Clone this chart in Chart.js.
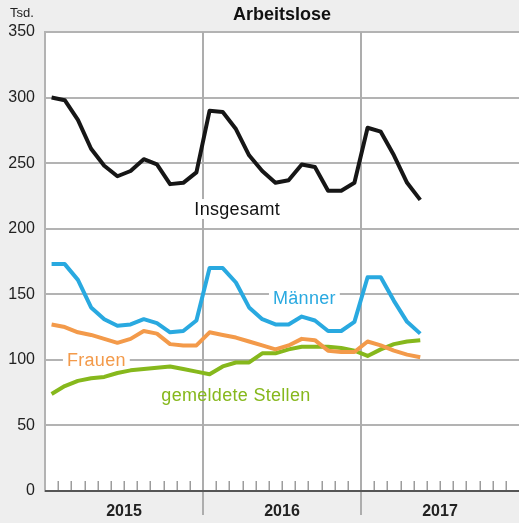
<!DOCTYPE html>
<html lang="de">
<head>
<meta charset="utf-8">
<title>Arbeitslose</title>
<script src="https://cdn.jsdelivr.net/npm/chart.js@4.4.1/dist/chart.umd.min.js"></script>
<style>
  html, body { margin: 0; padding: 0; background: #eeeeee; }
  canvas { display: block; }
</style>
</head>
<body>
<canvas id="chart" width="519" height="523" style="width:519px;height:523px"></canvas>
<script>
// Arbeitslose in Tsd., monthly Jan 2015 - May 2017
const years = ['2015', '2016', '2017'];
const monthsShown = 36;
const yMax = 350;
const yStep = 50;

const insgesamt = [300, 298, 283, 261, 248, 240, 244, 253, 249, 234, 235, 243,
                   290, 289, 276, 256, 244, 235, 237, 249, 247, 229, 229, 235,
                   277, 274, 256, 235, 222];
const maenner   = [173, 173, 161, 140, 131, 126, 127, 131, 128, 121, 122, 130,
                   170, 170, 159, 140, 131, 127, 127, 133, 130, 122, 122, 129,
                   163, 163, 145, 129, 120];
const frauen    = [127, 125, 121, 119, 116, 113, 116, 122, 120, 112, 111, 111,
                   121, 119, 117, 114, 111, 108, 111, 116, 115, 107, 106, 106,
                   114, 111, 107, 104, 102];
const stellen   = [74, 80, 84, 86, 87, 90, 92, 93, 94, 95, 93, 91,
                   89, 95, 98, 98, 105, 105, 108, 110, 110, 110, 109, 107,
                   103, 108, 112, 114, 115];

// month i sits in the middle of its slot
const pts = arr => arr.map((v, i) => ({ x: i + 0.5, y: v }));

// line captions, placed in data units (month, Tsd.)
const captions = [
  { text: 'Insgesamt', color: '#111111', x: 14.6, y: 215, box: true },
  { text: 'Männer', color: '#29a9e0', x: 19.7, y: 147.5, box: true },
  { text: 'Frauen', color: '#f39a4a', x: 3.9, y: 100, box: true },
  { text: 'gemeldete Stellen', color: '#86b81c', x: 14.5, y: 73, box: false }
];

Chart.defaults.font.family = "'Liberation Sans', Arial, sans-serif";
Chart.defaults.color = '#222';

const decor = {
  id: 'decor',
  beforeDraw(chart) {
    const { ctx, chartArea: a } = chart;
    ctx.save();
    ctx.fillStyle = '#eeeeee';
    ctx.fillRect(0, 0, chart.width, chart.height);
    ctx.fillStyle = '#ffffff';
    ctx.fillRect(a.left, a.top, a.right - a.left, a.bottom - a.top);
    ctx.restore();
  },
  beforeDatasetsDraw(chart) {
    const { ctx, chartArea: a, scales: { x, y } } = chart;
    ctx.save();
    // year separators run below the axis
    ctx.strokeStyle = '#adadad';
    ctx.lineWidth = 2;
    for (let k = 12; k < monthsShown; k += 12) {
      const px = Math.round(x.getPixelForValue(k));
      ctx.beginPath();
      ctx.moveTo(px, a.top);
      ctx.lineTo(px, a.bottom + 24);
      ctx.stroke();
    }
    // month ticks
    ctx.strokeStyle = '#9c9c9c';
    ctx.lineWidth = 1.5;
    for (let k = 1; k < monthsShown; k++) {
      if (k % 12 === 0) continue;
      const px = Math.round(x.getPixelForValue(k)) + 0.25;
      ctx.beginPath();
      ctx.moveTo(px, a.bottom);
      ctx.lineTo(px, a.bottom - 10);
      ctx.stroke();
    }
    // x axis
    ctx.strokeStyle = '#555';
    ctx.lineWidth = 2;
    ctx.beginPath();
    ctx.moveTo(a.left, a.bottom);
    ctx.lineTo(a.right, a.bottom);
    ctx.stroke();

    // captions
    ctx.font = "18px 'Liberation Sans', Arial, sans-serif";
    ctx.letterSpacing = '0.3px';
    ctx.textAlign = 'center';
    ctx.textBaseline = 'middle';
    captions.forEach(c => {
      const cx = x.getPixelForValue(c.x);
      const cy = y.getPixelForValue(c.y);
      const w = ctx.measureText(c.text).width;
      if (c.box) {
        ctx.fillStyle = '#ffffff';
        ctx.fillRect(cx - w / 2 - 4, cy - 10, w + 8, 20);
      }
      ctx.fillStyle = c.color;
      ctx.fillText(c.text, cx, cy + 1);
    });
    ctx.restore();
  },
  afterDraw(chart) {
    const { ctx } = chart;
    ctx.save();
    ctx.font = "13px 'Liberation Sans', Arial, sans-serif";
    ctx.fillStyle = '#222';
    ctx.textBaseline = 'middle';
    ctx.fillText('Tsd.', 10, 13);
    ctx.restore();
  }
};

const line = (label, data, color) => ({
  label, data: pts(data),
  borderColor: color, borderWidth: 4,
  borderJoinStyle: 'round', borderCapStyle: 'butt',
  pointRadius: 0, tension: 0, fill: false
});

new Chart(document.getElementById('chart'), {
  type: 'line',
  data: {
    datasets: [
      line('Insgesamt', insgesamt, '#161616'),
      line('Männer', maenner, '#29a9e0'),
      line('Frauen', frauen, '#f39a4a'),
      line('gemeldete Stellen', stellen, '#86b81c')
    ]
  },
  options: {
    responsive: false,
    animation: false,
    layout: { padding: 0 },
    plugins: {
      legend: { display: false },
      tooltip: { enabled: false },
      title: {
        display: true,
        text: 'Arbeitslose',
        fullSize: false,
        color: '#111',
        font: { size: 18, weight: 'bold', lineHeight: 1.2 },
        padding: { top: 4, bottom: 6.4 }
      }
    },
    scales: {
      x: {
        type: 'linear',
        min: 0,
        max: monthsShown,
        grid: { display: false },
        border: { display: false },
        afterBuildTicks: s => { s.ticks = years.map((_, i) => ({ value: 6 + 12 * i })); },
        afterFit: s => { s.height = 32; },
        ticks: {
          autoSkip: false,
          maxRotation: 0,
          padding: 3,
          color: '#222',
          font: { size: 16, weight: 'bold' },
          callback: (v, i) => years[i]
        }
      },
      y: {
        min: 0,
        max: yMax,
        afterFit: s => { s.width = 45; },
        grid: { color: '#b3b3b3', lineWidth: 2, drawTicks: false },
        border: { display: true, color: '#b3b3b3', width: 2 },
        ticks: {
          stepSize: yStep,
          padding: 10,
          color: '#222',
          font: { size: 16 }
        }
      }
    }
  },
  plugins: [decor]
});
</script>
</body>
</html>
